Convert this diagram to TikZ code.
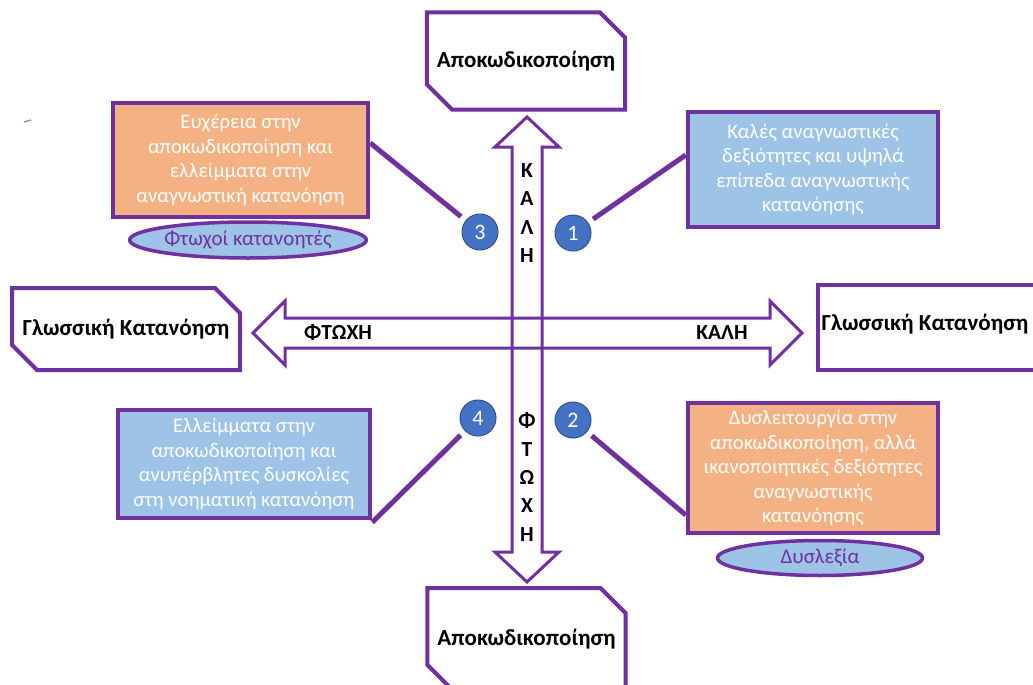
\documentclass[tikz,border=0pt]{standalone}
\usepackage{fontspec}
\setmainfont{Carlito}
\usetikzlibrary{shapes.misc,shapes.geometric}
\definecolor{purp}{HTML}{7030A0}
\definecolor{orng}{HTML}{F4B183}
\definecolor{lblue}{HTML}{9DC3E6}
\definecolor{cblue}{HTML}{4472C4}
\definecolor{cborder}{HTML}{2F528F}
\begin{document}
\begin{tikzpicture}[x=1pt,y=-1pt,
  snipbox/.style={chamfered rectangle, chamfered rectangle corners={north east,south west},
    chamfered rectangle xsep=15pt, chamfered rectangle ysep=15pt, draw=purp, line width=4pt,
    fill=white, inner sep=0pt, font=\fontsize{23}{26}\selectfont\bfseries},
  titletext/.style={inner sep=0pt, font=\fontsize{23}{26}\selectfont\bfseries},
  infobox/.style={rectangle, draw=purp, line width=4.5pt, inner sep=0pt, align=center,
    text=white, font=\fontsize{20.6}{24.5}\selectfont},
  tagell/.style={ellipse, draw=purp, line width=3.5pt, fill=lblue, inner sep=0pt,
    text=purp, font=\fontsize{21}{24}\selectfont},
  num/.style={circle, fill=cblue, draw=cborder, line width=1pt, minimum size=36pt,
    inner sep=0pt, text=white, font=\fontsize{22}{24}\selectfont},
  arrowshape/.style={draw=purp, line width=3pt, line join=miter},
  conn/.style={draw=purp, line width=5pt},
  axislabel/.style={inner sep=0pt, font=\fontsize{21.5}{24}\selectfont\bfseries, align=center}
]
\useasboundingbox (0,0) rectangle (1033,685);
\fill[white] (0,0) rectangle (1033,685);

% tiny stray mark
\draw[purp!60, line width=1.5pt] (24,122) -- (31,120);

% double arrows (outlines)
\draw[arrowshape] (253,333) -- (285,301) -- (285,318) -- (770,318) -- (770,301) -- (802,333)
  -- (770,365) -- (770,348) -- (285,348) -- (285,365) -- cycle;
\draw[arrowshape] (527,117) -- (559,147) -- (542,147) -- (542,552) -- (559,552) -- (527,582)
  -- (495,552) -- (512,552) -- (512,147) -- (495,147) -- cycle;

% axis labels
\node[axislabel] (poorH) at (338,333) {ΦΤΩΧΗ};
\node[axislabel] (goodH) at (722,333) {ΚΑΛΗ};
\node[axislabel, font=\fontsize{21.5}{28.5}\selectfont\bfseries] (goodV) at (527,213) {Κ\\Α\\Λ\\Η};
\node[axislabel, font=\fontsize{21.5}{28.3}\selectfont\bfseries] (poorV) at (527,477) {Φ\\Τ\\Ω\\Χ\\Η};

% snipped-corner title boxes
\node[snipbox, minimum width=196pt, minimum height=97pt] (topbox) at (526,61) {Αποκωδικοποίηση};
\node[snipbox, minimum width=197pt, minimum height=102pt] (botbox) at (526.5,639) {Αποκωδικοποίηση};
\node[snipbox, minimum width=228pt, minimum height=82pt] (leftbox) at (126,329) {Γλωσσική Κατανόηση};
\node[snipbox, minimum width=228pt, minimum height=85pt] (rightbox) at (932,327.5) {};
\node[titletext] (rightlabel) at (925,324) {Γλωσσική Κατανόηση};

% info boxes
\node[infobox, fill=orng, minimum width=255pt, minimum height=114pt] (b3) at (240.5,160)
  {Ευχέρεια στην\\αποκωδικοποίηση και\\ελλείμματα στην\\αναγνωστική κατανόηση};
\node[infobox, fill=lblue, minimum width=250pt, minimum height=115pt] (b1) at (813,169.5)
  {Καλές αναγνωστικές\\δεξιότητες και υψηλά\\επίπεδα αναγνωστικής\\κατανόησης};
\node[infobox, fill=lblue, minimum width=252pt, minimum height=108pt] (b4) at (244,464)
  {Ελλείμματα στην\\αποκωδικοποίηση και\\ανυπέρβλητες δυσκολίες\\στη νοηματική κατανόηση};
\node[infobox, fill=orng, minimum width=250pt, minimum height=130pt] (b2) at (813,468)
  {Δυσλειτουργία στην\\αποκωδικοποίηση, αλλά\\ικανοποιητικές δεξιότητες\\αναγνωστικής\\κατανόησης};

% tags
\node[tagell, minimum width=217pt, minimum height=36pt] (e3) at (248,240) {Φτωχοί κατανοητές};
\node[tagell, minimum width=205pt, minimum height=35pt] (e2) at (820,558) {Δυσλεξία};

% numbered circles
\node[num] (c3) at (480,232) {3};
\node[num] (c1) at (573,233) {1};
\node[num] (c4) at (478,418) {4};
\node[num] (c2) at (573,420) {2};

% connectors
\draw[conn, shorten >=6pt] ([yshift=17pt]b3.east) -- (c3);
\draw[conn, shorten >=6pt] ([yshift=14.5pt]b1.west) -- (c1);
\draw[conn, shorten >=6pt] ([yshift=-2pt]b4.south east) -- (c4);
\draw[conn, shorten >=6pt] ([yshift=-47pt]b2.west) -- (c2);
\end{tikzpicture}
\end{document}
